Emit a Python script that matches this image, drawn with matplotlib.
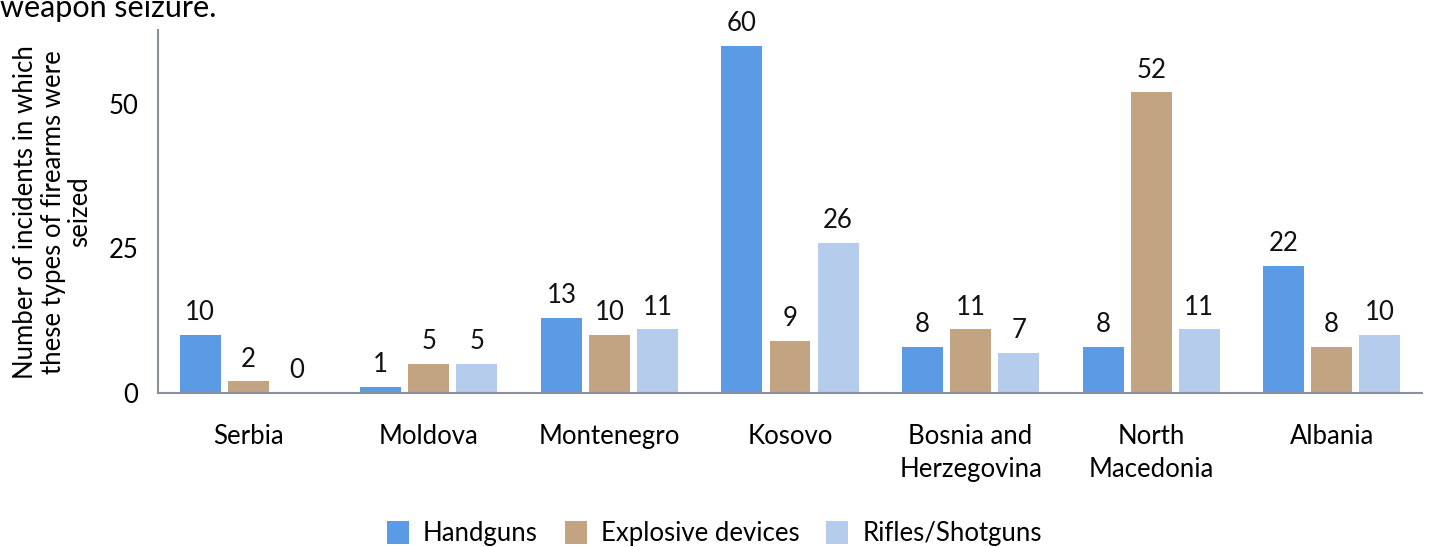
import matplotlib.pyplot as plt
import numpy as np

plt.rcParams['font.family'] = ['Lato', 'DejaVu Sans']

countries = ['Serbia', 'Moldova', 'Montenegro', 'Kosovo', 'Bosnia and\nHerzegovina',
             'North\nMacedonia', 'Albania']
handguns = [10, 1, 13, 60, 8, 8, 22]
explosives = [2, 5, 10, 9, 11, 52, 8]
rifles = [0, 5, 11, 26, 7, 11, 10]

series = [('Handguns', handguns, '#5b9be6'),
          ('Explosive devices', explosives, '#c2a382'),
          ('Rifles/Shotguns', rifles, '#b6ccec')]

W, H = 1429, 547
fig = plt.figure(figsize=(W / 100, H / 100), dpi=100)
ax = fig.add_axes([158 / W, 1 - 393 / H, 1264 / W, 363 / H])

fs = 18.5
x = np.arange(len(countries))
width = 0.227
offsets = [-0.266, 0, 0.266]
for (name, vals, color), off in zip(series, offsets):
    bars = ax.bar(x + off, vals, width, color=color, label=name)
    for b, v in zip(bars, vals):
        ax.text(b.get_x() + b.get_width() / 2, v + 1.7, str(v), ha='center', va='bottom',
                fontsize=fs, color='#111111')

ax.set_xlim(-0.5, len(countries) - 0.5)
ax.set_ylim(0, 62.8)
ax.set_yticks([0, 25, 50])
ax.set_xticks(x)
ax.set_xticklabels(countries, fontsize=fs, linespacing=1.4)
ax.tick_params(axis='y', labelsize=fs, length=0, pad=14)
ax.tick_params(axis='x', length=0, pad=22)
for s in ['top', 'right']:
    ax.spines[s].set_visible(False)
for s in ['left', 'bottom']:
    ax.spines[s].set_color('#8a9099')
    ax.spines[s].set_linewidth(1.5)

fig.text(53 / W, 1 - 212 / H,
         'Number of incidents in which\nthese types of firearms were\nseized',
         fontsize=fs, rotation=90, ha='center', va='center', multialignment='center',
         linespacing=1.1)

fig.text(0.0, 1 - 17 / H, 'weapon seizure.', fontsize=22, ha='left', va='baseline')

fig.legend(loc='lower center', ncol=3, bbox_to_anchor=(0.5, -0.041), frameon=False,
           fontsize=fs, handlelength=0.85, handleheight=1.0, columnspacing=1.05,
           handletextpad=0.55)

fig.savefig('out.png', dpi=100)
